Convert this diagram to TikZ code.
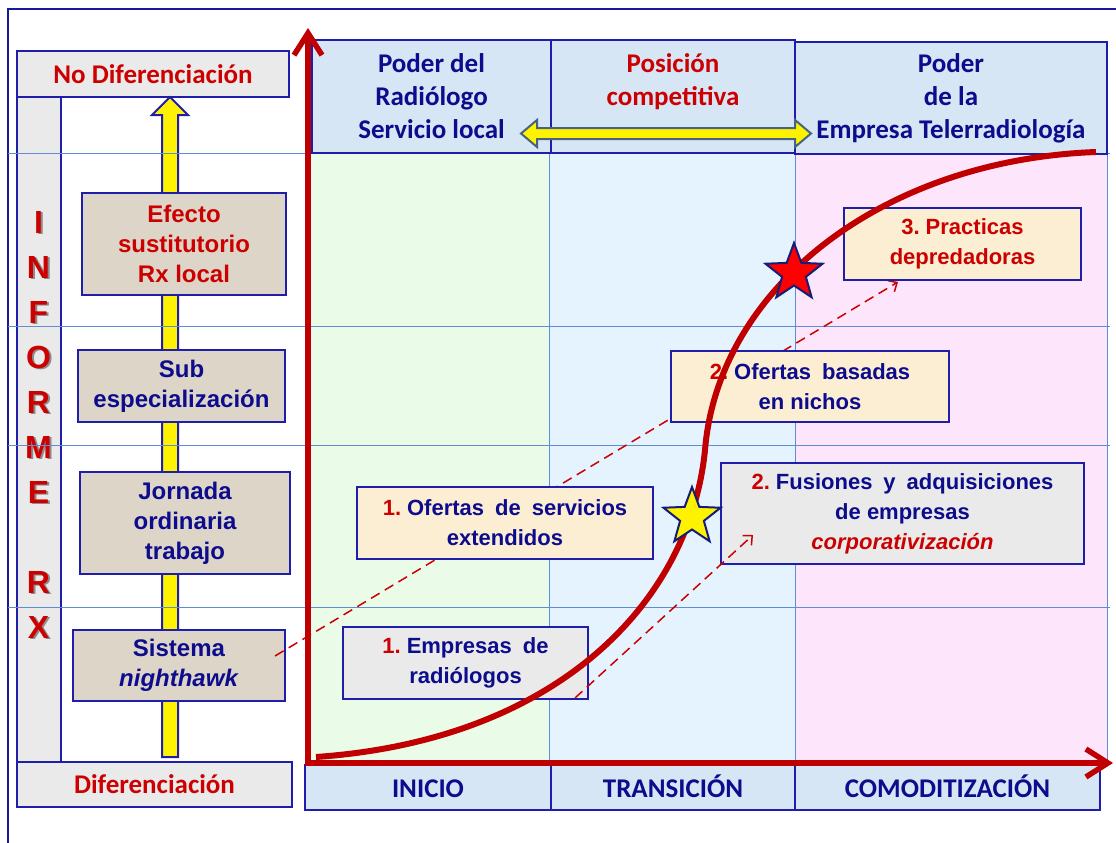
\documentclass[tikz,border=0pt]{standalone}
\usepackage{fontspec}
\setmainfont{Liberation Sans}
\newfontfamily\calibfont{Carlito}
\usetikzlibrary{shapes.geometric,arrows.meta,positioning,calc}

\definecolor{navytxt}{RGB}{12,12,140}
\definecolor{redtxt}{RGB}{204,0,0}
\definecolor{curvered}{RGB}{192,0,0}
\definecolor{boxline}{RGB}{30,30,170}
\definecolor{gridblue}{RGB}{95,140,210}
\definecolor{frameblue}{RGB}{25,25,160}
\definecolor{colgreen}{RGB}{234,251,232}
\definecolor{colblue}{RGB}{228,243,253}
\definecolor{colpink}{RGB}{253,230,251}
\definecolor{headblue}{RGB}{214,230,245}
\definecolor{texgray}{RGB}{234,234,234}
\definecolor{tanfill}{RGB}{221,213,199}
\definecolor{creamfill}{RGB}{251,238,211}
\definecolor{slateline}{RGB}{70,100,130}
\definecolor{starline}{RGB}{20,30,120}

\newcommand{\widespaces}{\spaceskip=11pt plus 2pt\relax}
\newcommand{\stepnum}[1]{\textcolor{redtxt}{#1}\hspace{6pt}}

\tikzset{
  headbox/.style={draw=boxline, line width=1.2pt, fill=headblue, align=center, inner sep=0pt,
    font=\calibfont\bfseries\fontsize{27}{33}\selectfont, text=navytxt},
  stagelabel/.style={headbox, text height=20pt, text depth=1pt},
  sidebox/.style={draw=boxline, line width=1.2pt, fill=texgray, inner sep=0pt,
    font=\calibfont\bfseries\fontsize{27}{33}\selectfont, text=redtxt},
  leftbox/.style={draw=boxline, line width=1.5pt, fill=tanfill, align=center, inner sep=0pt,
    font=\bfseries\fontsize{24}{30}\selectfont, text=navytxt},
  stagebox/.style={draw=boxline, line width=1.5pt, align=center, inner sep=0pt,
    font=\bfseries\fontsize{22}{30}\selectfont, text=navytxt},
  graybox/.style={stagebox, fill=texgray},
  creambox/.style={stagebox, fill=creamfill},
  gridline/.style={gridblue, line width=1pt},
  axis/.style={curvered, line width=5.5pt, line join=miter,
    {Straight Barb[length=22pt,width=28pt]}-{Straight Barb[length=22pt,width=28pt]}},
  hint/.style={redtxt, line width=1.5pt, dash pattern=on 10pt off 6pt,
    -{Straight Barb[length=7pt,width=13pt]}},
  bigstar/.style={star, star points=5, star point ratio=2.4, inner sep=0pt,
    minimum size=60pt, draw=starline, line width=2pt},
  letter/.style={font=\bfseries\fontsize{32}{32}\selectfont, text=redtxt, inner sep=0pt},
}

\begin{document}
\begin{tikzpicture}[x=1pt, y=-1pt]
\useasboundingbox (0,0) rectangle (1116,843);
\fill[white] (0,0) rectangle (1116,843);

% frame
\draw[frameblue, line width=2.5pt] (8,843) -- (8,9) -- (1116,9);

% stage columns
\fill[colgreen] (310,153) rectangle (549,763);
\fill[colblue] (549,153) rectangle (795,763);
\fill[colpink] (795,153) rectangle (1107,763);

% left side: informe bar
\node[sidebox, minimum width=44, minimum height=665] (informe) at (39,429.5) {};
\foreach \ch/\yy in {I/222,N/267,F/312,O/357,R/402,M/447,E/492,R/582,X/627}{
  \node[letter, text=black!45] (sh-\yy) at (40.5,\yy+1.5) {\ch};
  \node[letter] (inf-\yy) at (38.5,\yy) {\ch};
}
\node[sidebox, minimum width=272, minimum height=46] (nodif) at (153,74) {No Diferenciación};
\node[sidebox, minimum width=275, minimum height=45] (dif) at (154.5,784.5) {Diferenciación};

% yellow arrow up
\draw[boxline, fill=yellow, line width=2pt] (170,97) -- (188,115) -- (178,115) -- (178,757)
  -- (162,757) -- (162,115) -- (152,115) -- cycle;

% grid
\foreach \gy in {153,326,445,607}
  \draw[gridline] (8,\gy) -- (1110,\gy);
\foreach \gx in {549,795,1107}
  \draw[gridline] (\gx,153) -- (\gx,763);

% left boxes
\node[leftbox, text=redtxt, minimum width=204, minimum height=102] (efecto) at (184,244) {Efecto\\sustitutorio\\Rx local};
\node[leftbox, minimum width=207, minimum height=72] (subesp) at (181.5,386) {Sub\\especialización};
\node[leftbox, minimum width=210, minimum height=102] (jornada) at (185,523) {Jornada\\ordinaria\\trabajo};
\node[leftbox, minimum width=212, minimum height=71] (sistema) at (179,665.5) {Sistema\\\textit{nighthawk}};

% headers
\node[headbox, minimum width=239, minimum height=113] (hrad) at (431.5,96.5) {Poder del\\Radiólogo\\Servicio local};
\node[headbox, minimum width=244, minimum height=113] (hpos) at (673,96.5) {};
\node[headbox, draw=none, fill=none, text=redtxt] (hpostxt) at (673,82) {Posición\\competitiva};
\node[headbox, minimum width=312, minimum height=112] (hemp) at (951,98) {Poder\\de la\\Empresa Telerradiología};

% stages
\node[stagelabel, minimum width=246, minimum height=45] (bini) at (428,787.5) {INICIO};
\node[stagelabel, minimum width=244, minimum height=45] (btra) at (673,787.5) {TRANSICIÓN};
\node[stagelabel, minimum width=305, minimum height=45] (bcom) at (947.5,787.5) {COMODITIZACIÓN};

% yellow double arrow
\draw[slateline, fill=yellow, line width=2pt] (521,133.5) -- (537,120) -- (537,128) -- (795,128)
  -- (795,120) -- (811,133.5) -- (795,147) -- (795,139) -- (537,139) -- (537,147) -- cycle;

% dashed line behind the offers
\coordinate (d1a) at (275,656);
\coordinate (d1b) at (898,282);
\draw[hint] (d1a) -- (d1b);

% strategy boxes
\node[graybox, minimum width=245, minimum height=72] (empresas) at (465.5,663) {\widespaces\stepnum{1.}Empresas de\\radiólogos};
\node[creambox, minimum width=296, minimum height=72] (ofertas1) at (505,523) {\widespaces\stepnum{1.}Ofertas de servicios\\extendidos};
\node[creambox, minimum width=278, minimum height=71] (ofertas2) at (810,386.5) {\widespaces\stepnum{2.}Ofertas basadas\\en nichos};
\node[graybox, minimum width=363, minimum height=101] (fusiones) at (902.5,513.5) {\widespaces\stepnum{2.}Fusiones y adquisiciones\\de empresas\\\textcolor{redtxt}{\textit{corporativización}}};
\node[creambox, text=redtxt, minimum width=237, minimum height=72] (practicas) at (962.5,244) {3.\hspace{6pt}Practicas\\depredadoras};

\coordinate (d2a) at (575,698);
\coordinate (d2b) at (753,535);
\draw[hint] (d2a) -- (d2b);

% s-curve
\coordinate (s0) at (316,757);
\coordinate (s1) at (705,450);
\coordinate (s2) at (1096,152);
\draw[curvered, line width=6pt] (s0) .. controls (560,740) and (690,600) .. (s1)
  .. controls (718,290) and (880,160) .. (s2);

% axes
\coordinate (ytip) at (308,28);
\coordinate (origin) at (308,763);
\coordinate (xtip) at (1113,763);
\draw[axis] (ytip) -- (origin) -- (xtip);

% stars
\node[bigstar, fill=yellow] (staryel) at (692,517) {};
\node[bigstar, fill=red] (starred) at (794,273) {};
\end{tikzpicture}
\end{document}
